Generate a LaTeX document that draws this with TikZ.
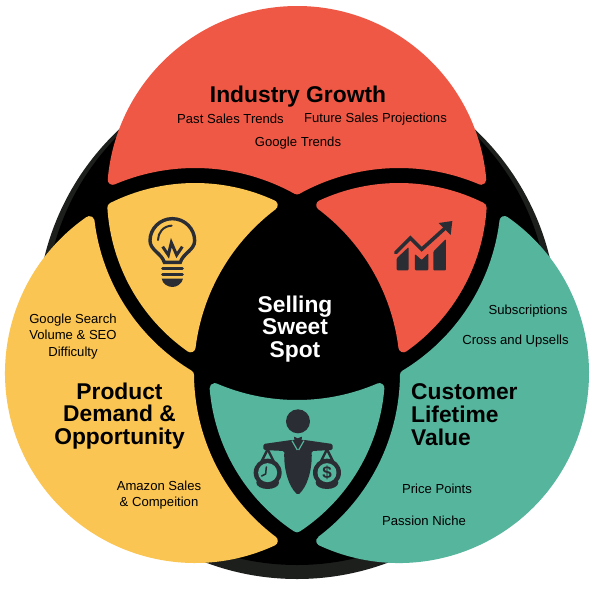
\documentclass[tikz,border=0pt]{standalone}
\usepackage{fontspec}
\setmainfont{Liberation Sans}
\definecolor{redc}{HTML}{EE5845}
\definecolor{yelc}{HTML}{FAC552}
\definecolor{teac}{HTML}{55B59D}
\definecolor{icon}{HTML}{2B2D35}
\definecolor{rim}{HTML}{1D1F1D}
% circle centres, in units of 10 px, y upward
\def\Rx{29.7}\def\Ry{40.4}
\def\Yx{19.5}\def\Yy{22.7}
\def\Tx{39.9}\def\Ty{22.7}
\def\rin{18.5}   % 19.0 less corner radius
\def\rout{21.0}  % 20.5 plus corner radius
\def\rrout{20.9} % 20.4 plus corner radius
\newcommand\vtx[8]{% name, x1,y1,r1, x2,y2,r2, sign
  \pgfmathsetmacro\dxv{#5-#2}\pgfmathsetmacro\dyv{#6-#3}%
  \pgfmathsetmacro\dv{sqrt(\dxv*\dxv+\dyv*\dyv)}%
  \pgfmathsetmacro\av{(#4*#4-#7*#7+\dv*\dv)/(2*\dv)}%
  \pgfmathsetmacro\hv{sqrt(#4*#4-\av*\av)}%
  \expandafter\pgfmathsetmacro\csname #1x\endcsname{#2+(\av*\dxv-(#8)*\hv*\dyv)/\dv}%
  \expandafter\pgfmathsetmacro\csname #1y\endcsname{#3+(\av*\dyv+(#8)*\hv*\dxv)/\dv}%
}
\newcommand\arcs[6]{% name, cx,cy, Vstart, Vend, dir
  \pgfmathsetmacro\sa{atan2(\csname #4y\endcsname-#3,\csname #4x\endcsname-#2)}%
  \pgfmathsetmacro\ea{atan2(\csname #5y\endcsname-#3,\csname #5x\endcsname-#2)}%
  \ifnum#6>0
    \pgfmathsetmacro\ea{\ea<\sa ? \ea+360 : \ea}%
  \else
    \pgfmathsetmacro\ea{\ea>\sa ? \ea-360 : \ea}%
  \fi
  \expandafter\let\csname #1s\endcsname\sa
  \expandafter\let\csname #1e\endcsname\ea
}
\newcommand\setc[5]{% slot, centre letter, radius, dir, sign to next
  \expandafter\edef\csname #1cx\endcsname{\csname #2x\endcsname}%
  \expandafter\edef\csname #1cy\endcsname{\csname #2y\endcsname}%
  \expandafter\edef\csname #1r\endcsname{#3}%
  \expandafter\edef\csname #1d\endcsname{#4}%
  \expandafter\edef\csname #1g\endcsname{#5}%
}
\newcommand\piece[1]{%
  \vtx{AB}{\Acx}{\Acy}{\Ar}{\Bcx}{\Bcy}{\Br}{\Ag}%
  \vtx{BC}{\Bcx}{\Bcy}{\Br}{\Ccx}{\Ccy}{\Cr}{\Bg}%
  \vtx{CA}{\Ccx}{\Ccy}{\Cr}{\Acx}{\Acy}{\Ar}{\Cg}%
  \arcs{pa}{\Acx}{\Acy}{CA}{AB}{\Ad}%
  \arcs{pb}{\Bcx}{\Bcy}{AB}{BC}{\Bd}%
  \arcs{pc}{\Ccx}{\Ccy}{BC}{CA}{\Cd}%
  \pgfmathsetmacro\ra{\Ar*10}\pgfmathsetmacro\rb{\Br*10}\pgfmathsetmacro\rc{\Cr*10}%
  \begin{scope}[x=10pt,y=10pt,shift={(0,-60)}]
  \draw[fill=#1,draw=#1,line width=10pt,line join=round]
    (\CAx,\CAy) arc[start angle=\pas,end angle=\pae,radius=\ra pt]
    arc[start angle=\pbs,end angle=\pbe,radius=\rb pt]
    arc[start angle=\pcs,end angle=\pce,radius=\rc pt] -- cycle;
  \end{scope}
}
\tikzset{
  lab/.style={font=\fontsize{13.1}{16.3}\selectfont,text=black,inner sep=0pt,align=center},
  head/.style={font=\fontsize{22.8}{22.7}\selectfont\bfseries,text=black,inner sep=0pt,align=center},
  ic/.style={draw=icon,line width=3.4pt,fill=none},
}
\begin{document}
\begin{tikzpicture}[x=1pt,y=-1pt]
\useasboundingbox (0,0) rectangle (600,600);
\fill[white] (0,0) rectangle (600,600);
\fill[rim] (297,319) circle[radius=260pt];
\fill[black] (297,313) circle[radius=252pt];
% big red
\setc{A}{R}{\rin}{1}{-1}\setc{B}{Y}{\rout}{-1}{1}\setc{C}{T}{\rout}{-1}{-1}
\piece{redc}
% big yellow
\setc{A}{Y}{\rin}{1}{-1}\setc{B}{T}{\rout}{-1}{1}\setc{C}{R}{\rrout}{-1}{-1}
\piece{yelc}
% big teal
\setc{A}{T}{\rin}{1}{-1}\setc{B}{R}{\rrout}{-1}{1}\setc{C}{Y}{\rout}{-1}{-1}
\piece{teac}
% bulb piece
\setc{A}{Y}{\rin}{1}{1}\setc{B}{R}{\rin}{1}{-1}\setc{C}{T}{\rout}{-1}{-1}
\piece{yelc}
% chart piece
\setc{A}{T}{\rin}{1}{-1}\setc{B}{Y}{\rout}{-1}{-1}\setc{C}{R}{\rin}{1}{1}
\piece{redc}
% scales piece
\setc{A}{T}{\rin}{1}{1}\setc{B}{Y}{\rin}{1}{-1}\setc{C}{R}{\rrout}{-1}{-1}
\piece{teac}
% bulb icon (coordinates of a 3x crop)
\begin{scope}[shift={(100,170)},x=0.3333pt,y=-0.3333pt]
  \draw[ic] (193,277) .. controls (185,250) and (150,240) .. (150,212)
     .. controls (150,176) and (180,146) .. (217,146)
     .. controls (254,146) and (284,176) .. (284,212)
     .. controls (284,240) and (249,250) .. (241,277) -- cycle;
  \draw[ic,line width=2pt,line cap=round] (174,210) .. controls (174,188) and (190,168) .. (215,167);
  \draw[ic,line width=3pt,line join=miter] (188,230) -- (205,255) -- (214,218) -- (230,255) -- (247,230);
  \draw[ic,line width=3.2pt,line cap=round] (188,295) -- (247,295);
  \draw[ic,line width=3.2pt,line cap=round] (188,313) -- (247,313);
  \fill[icon] (185,326) -- (249,326) .. controls (246,342) and (230,351) .. (217,351) .. controls (204,351) and (188,342) .. (185,326) -- cycle;
\end{scope}
% chart icon
\begin{scope}[shift={(300,170)},x=0.3333pt,y=-0.3333pt]
  \fill[icon,rounded corners=1pt] (290,301) -- (290,265) -- (326,231) -- (326,301) -- cycle;
  \fill[icon,rounded corners=1pt] (345,301) -- (345,252) -- (365,270) -- (385,250) -- (385,301) -- cycle;
  \fill[icon,rounded corners=1pt] (400,301) -- (400,245) -- (438,207) -- (438,301) -- cycle;
  \draw[ic,line width=3.6pt,line cap=round,line join=miter] (287,248) -- (331,204) -- (365,238) -- (438,172);
  \fill[icon] (416,159) -- (457,153) -- (452,195) -- cycle;
\end{scope}
% scales icon
\begin{scope}[shift={(200,370)},x=0.3333pt,y=-0.3333pt]
  \fill[icon] (294,154) circle[radius=12pt];
  \fill[icon] (282,200) -- (293,205) -- (306,200) -- (304,216) -- (294,211) -- (284,216) -- cycle;
  \fill[icon,rounded corners=1.5pt] (190,222) -- (274,210) -- (314,210) -- (398,222) -- (398,240) -- (335,243)
     .. controls (337,300) and (322,350) .. (294,375)
     .. controls (266,350) and (251,300) .. (253,243) -- (190,240) -- cycle;
  \draw[teac,line width=1.2pt] (276,212) -- (292,240);
  \draw[teac,line width=1.2pt] (312,212) -- (296,240);
  \draw[ic,line width=2.4pt] (203,238) -- (184,276);
  \draw[ic,line width=2.4pt] (203,238) -- (222,276);
  \fill[icon] (203,308) circle[radius=14pt];
  \fill[icon] (203,338) ellipse[x radius=34,y radius=19];
  \fill[teac] (203,308) circle[radius=9.5pt];
  \draw[ic,line width=1.5pt,line cap=round,line join=round] (199,291) -- (197,312) -- (185,318);
  \draw[ic,line width=2.4pt] (381,238) -- (362,276);
  \draw[ic,line width=2.4pt] (381,238) -- (400,276);
  \fill[icon] (381,308) circle[radius=14pt];
  \fill[icon] (381,338) ellipse[x radius=34,y radius=19];
  \fill[teac] (381,308) circle[radius=9.5pt];
  \node[inner sep=0pt,text=icon,font=\fontsize{17}{17}\selectfont\bfseries] (dollar) at (381,308) {\$};
\end{scope}
% texts
\node[head] (t1) at (298,96.5) {Industry Growth};
\node[lab] (t2) at (230.5,119) {Past Sales Trends};
\node[lab] (t3) at (375.5,119) {Future Sales Projections};
\node[lab] (t4) at (298,143) {Google Trends};
\node[head,text=white] (t5) at (295,329) {Selling\\Sweet\\Spot};
\node[lab] (t6) at (73,336.5) {Google Search\\Volume \& SEO\\Difficulty};
\node[head] (t7) at (119.5,416) {Product\\Demand \&\\Opportunity};
\node[lab] (t8) at (159,495) {Amazon Sales\\\& Compeition};
\node[head,align=left,anchor=west] (t9) at (411,414.5) {Customer\\Lifetime\\Value};
\node[lab] (t10) at (528,311) {Subscriptions};
\node[lab] (t11) at (515.5,341) {Cross and Upsells};
\node[lab] (t12) at (437,489) {Price Points};
\node[lab] (t13) at (424,521) {Passion Niche};
\end{tikzpicture}
\end{document}
